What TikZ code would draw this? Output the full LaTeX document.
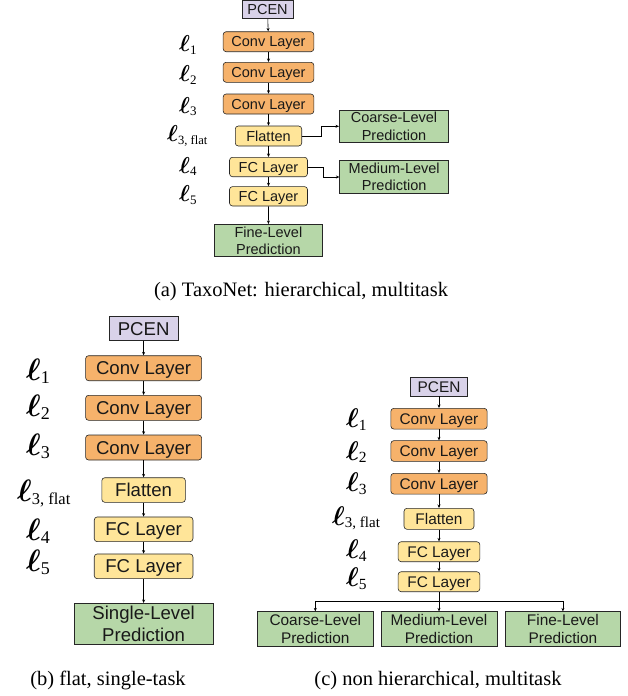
\documentclass[tikz,border=0pt]{standalone}
\usepackage{bm}
\usepackage{fontspec}
\setmainfont{Liberation Serif}
\newfontfamily\boxfont{Liberation Sans}
\usetikzlibrary{arrows.meta}
\definecolor{pcenc}{HTML}{D9D2E9}
\definecolor{convc}{HTML}{F6B26B}
\definecolor{fcc}{HTML}{FFE599}
\definecolor{predc}{HTML}{B6D7A8}
% #1 ell scale (x10pt), #2 sub size, #3 lowering, #4 text
\newcommand\ellab[4]{{\fontsize{10pt}{10pt}\selectfont\scalebox{#1}{$\bm{\ell}$}}\raisebox{-#3}{\fontsize{#2}{#2}\selectfont #4}}
\tikzset{
  base/.style={draw=black!85, line width=0.6pt, inner sep=0pt, text=black!90, align=center},
  pcen/.style={base, fill=pcenc},
  conv/.style={base, fill=convc, rounded corners=3pt},
  fc/.style={base, fill=fcc, rounded corners=3pt},
  pred/.style={base, fill=predc},
  arr/.style={-{Stealth[length=3.5pt,width=3pt]}, line width=0.6pt},
  lab/.style={anchor=base west, inner sep=0pt},
  captext/.style={anchor=base, inner sep=0pt, font=\fontsize{20.5}{24}\selectfont},
  fa/.style={font=\boxfont\fontsize{14.5}{17.3}\selectfont},
  fb/.style={font=\boxfont\fontsize{18.6}{22}\selectfont},
  fcs/.style={font=\boxfont\fontsize{15.4}{18.3}\selectfont},
  oa/.style={fa, text height=10.4pt, text depth=0pt},
  ob/.style={fb, text height=13.3pt, text depth=0pt},
  oc/.style={fcs, text height=11pt, text depth=0pt}
}
\begin{document}
\begin{tikzpicture}[x=1pt,y=-1pt]
\useasboundingbox (0,0) rectangle (628,696);
% ---------------- (a) ----------------
\node[pcen,oa,minimum width=51pt,minimum height=18.5pt] (pa) at (267.5,9.5) {PCEN};
\node[conv,oa,minimum width=90.7pt,minimum height=20pt] (c1a) at (268.5,41.7) {Conv Layer};
\node[conv,oa,minimum width=90.7pt,minimum height=20pt] (c2a) at (268.5,72.3) {Conv Layer};
\node[conv,oa,minimum width=90.7pt,minimum height=20pt] (c3a) at (268.5,104) {Conv Layer};
\node[fc,oa,minimum width=66.4pt,minimum height=20pt] (fla) at (268.5,136) {Flatten};
\node[fc,oa,minimum width=78pt,minimum height=19.4pt] (f1a) at (268.5,167) {FC Layer};
\node[fc,oa,minimum width=78pt,minimum height=19.4pt] (f2a) at (268.5,196.3) {FC Layer};
\node[pred,fa,minimum width=108.7pt,minimum height=32.4pt] (fia) at (268.4,240.5) {Fine-Level\\Prediction};
\node[pred,fa,minimum width=109.4pt,minimum height=32.7pt] (coa) at (394,126.3) {Coarse-Level\\Prediction};
\node[pred,fa,minimum width=109pt,minimum height=32.6pt] (mea) at (394.2,177) {Medium-Level\\Prediction};
\draw[arr] (pa) -- (c1a);
\draw[arr] (c1a) -- (c2a);
\draw[arr] (c2a) -- (c3a);
\draw[arr] (c3a) -- (fla);
\draw[arr] (fla) -- (f1a);
\draw[arr] (f1a) -- (f2a);
\draw[arr] (f2a) -- (fia);
\draw[arr] (fla.east) -- ++(19,0) |- (coa.west);
\draw[arr] (f1a.east) -- ++(15.7,0) |- (mea.west);
\node[lab] (l1a) at (179,51.7) {\ellab{2.3}{13pt}{2.4pt}{1}};
\node[lab] (l2a) at (179,81.7) {\ellab{2.3}{13pt}{2.4pt}{2}};
\node[lab] (l3a) at (179,113.3) {\ellab{2.3}{13pt}{2.4pt}{3}};
\node[lab] (lfa) at (167,141.7) {\ellab{2.3}{12.6pt}{2.4pt}{3, flat}};
\node[lab] (l4a) at (179,173.3) {\ellab{2.3}{13pt}{2.4pt}{4}};
\node[lab] (l5a) at (179,201.7) {\ellab{2.3}{13pt}{2.4pt}{5}};
\node[captext] (capa) at (301,296) {(a) TaxoNet: hierarchical, multitask};
% ---------------- (b) ----------------
\node[pcen,ob,minimum width=68.4pt,minimum height=24pt] (pb) at (143.6,328.7) {PCEN};
\node[conv,ob,minimum width=116pt,minimum height=25pt] (c1b) at (143.6,368.2) {Conv Layer};
\node[conv,ob,minimum width=116pt,minimum height=25pt] (c2b) at (143.6,407.8) {Conv Layer};
\node[conv,ob,minimum width=116pt,minimum height=25pt] (c3b) at (143.6,447.5) {Conv Layer};
\node[fc,ob,minimum width=83.6pt,minimum height=24.6pt] (flb) at (143.6,490) {Flatten};
\node[fc,ob,minimum width=98.7pt,minimum height=24.7pt] (f1b) at (143.6,529.3) {FC Layer};
\node[fc,ob,minimum width=98.7pt,minimum height=24.7pt] (f2b) at (143.6,566.3) {FC Layer};
\node[pred,fb,minimum width=139.3pt,minimum height=41pt] (sib) at (143.6,623.8) {Single-Level\\Prediction};
\draw[arr] (pb) -- (c1b);
\draw[arr] (c1b) -- (c2b);
\draw[arr] (c2b) -- (c3b);
\draw[arr] (c3b) -- (flb);
\draw[arr] (flb) -- (f1b);
\draw[arr] (f1b) -- (f2b);
\draw[arr] (f2b) -- (sib);
\node[lab] (l1b) at (26,380.7) {\ellab{3.1}{18pt}{3.2pt}{1}};
\node[lab] (l2b) at (26,416.7) {\ellab{3.1}{18pt}{3.2pt}{2}};
\node[lab] (l3b) at (26,455) {\ellab{3.1}{18pt}{3.2pt}{3}};
\node[lab] (lfb) at (17,501.7) {\ellab{3.1}{16.5pt}{3.2pt}{3, flat}};
\node[lab] (l4b) at (26,540) {\ellab{3.1}{18pt}{3.2pt}{4}};
\node[lab] (l5b) at (26,571.7) {\ellab{3.1}{18pt}{3.2pt}{5}};
\node[captext] (capb) at (108,685) {(b) flat, single-task};
% ---------------- (c) ----------------
\node[pcen,oc,minimum width=56.6pt,minimum height=18.7pt] (pc) at (439,386.7) {PCEN};
\node[conv,oc,minimum width=96.3pt,minimum height=20.7pt] (c1c) at (439,418.7) {Conv Layer};
\node[conv,oc,minimum width=96.3pt,minimum height=20.7pt] (c2c) at (439,451) {Conv Layer};
\node[conv,oc,minimum width=96.3pt,minimum height=20.7pt] (c3c) at (439,483.7) {Conv Layer};
\node[fc,oc,minimum width=70pt,minimum height=21pt] (flc) at (439,518.8) {Flatten};
\node[fc,oc,minimum width=81.7pt,minimum height=20pt] (f1c) at (439,551.7) {FC Layer};
\node[fc,oc,minimum width=81.7pt,minimum height=20pt] (f2c) at (439,581.7) {FC Layer};
\node[pred,fcs,minimum width=116pt,minimum height=35pt] (coc) at (315.3,629.2) {Coarse-Level\\Prediction};
\node[pred,fcs,minimum width=115.7pt,minimum height=35pt] (mec) at (439,629.2) {Medium-Level\\Prediction};
\node[pred,fcs,minimum width=115.7pt,minimum height=35pt] (fic) at (562.9,629.2) {Fine-Level\\Prediction};
\coordinate (barc) at (439,601.7);
\draw[arr] (pc) -- (c1c);
\draw[arr] (c1c) -- (c2c);
\draw[arr] (c2c) -- (c3c);
\draw[arr] (c3c) -- (flc);
\draw[arr] (flc) -- (f1c);
\draw[arr] (f1c) -- (f2c);
\draw[arr] (f2c) -- (mec);
\draw[arr] (barc) -| (coc.north);
\draw[arr] (barc) -| (fic.north);
\node[lab] (l1c) at (346,427.3) {\ellab{2.7}{15.5pt}{2.8pt}{1}};
\node[lab] (l2c) at (346,460) {\ellab{2.7}{15.5pt}{2.8pt}{2}};
\node[lab] (l3c) at (346,491.7) {\ellab{2.7}{15.5pt}{2.8pt}{3}};
\node[lab] (lfc) at (332,525) {\ellab{2.7}{15pt}{2.8pt}{3, flat}};
\node[lab] (l4c) at (346,558.3) {\ellab{2.7}{15.5pt}{2.8pt}{4}};
\node[lab] (l5c) at (346,586.7) {\ellab{2.7}{15.5pt}{2.8pt}{5}};
\node[captext] (capc) at (438,685) {(c) non hierarchical, multitask};
\end{tikzpicture}
\end{document}
